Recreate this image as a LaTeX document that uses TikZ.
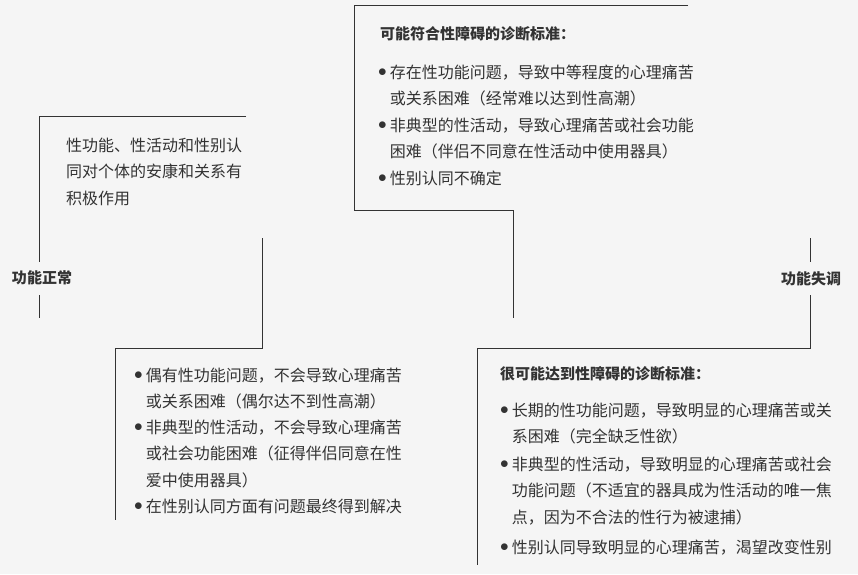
\documentclass[tikz,border=0pt]{standalone}
\usepackage{fontspec}
\setmainfont{Noto Sans CJK SC}
\usepackage{xcolor}
\definecolor{bg}{HTML}{F5F5F5}
\definecolor{ink}{HTML}{333333}
\newcommand{\bitem}[1]{\begin{tabular}[t]{@{}l@{\hspace{3pt}}l@{}}#1\end{tabular}}
\newcommand{\bl}{\raisebox{1.5pt}{$\bullet$}}

\begin{document}
\begin{tikzpicture}[x=1pt,y=-1pt,
	txt/.style={anchor=base west,inner sep=0pt,text=ink,font=\fontsize{16}{26.5}\selectfont},
	ttl/.style={anchor=base west,inner sep=0pt,text=ink,font=\fontsize{15}{20}\selectfont\bfseries},
	lbl/.style={inner sep=0pt,text=ink,font=\fontsize{15}{20}\selectfont\bfseries},
	frame/.style={draw=ink,line width=1pt}]
	\fill[bg] (0,0) rectangle (858,574);
	\useasboundingbox (0,0) rectangle (858,574);

	% labels at the two ends
	\node[lbl] (normal) at (42,278) {功能正常};
	\node[lbl] (dysf)   at (811,279) {功能失调};

	% texts
	\node[txt] (good) at (66,151) {\begin{tabular}[t]{@{}l@{}}性功能、性活动和性别认\\同对个体的安康和关系有\\积极作用\end{tabular}};

	\node[ttl] (maytitle) at (380,39) {可能符合性障碍的诊断标准：};
	\node[txt] (may1) at (378,78) {\bitem{\bl & 存在性功能问题，导致中等程度的心理痛苦\\ & 或关系困难（经常难以达到性高潮）}};
	\node[txt] (may2) at (378,131) {\bitem{\bl & 非典型的性活动，导致心理痛苦或社会功能\\ & 困难（伴侣不同意在性活动中使用器具）}};
	\node[txt] (may3) at (378,184) {\bitem{\bl & 性别认同不确定}};

	\node[txt] (rare1) at (134,381) {\bitem{\bl & 偶有性功能问题，不会导致心理痛苦\\ & 或关系困难（偶尔达不到性高潮）}};
	\node[txt] (rare2) at (134,433) {\bitem{\bl & 非典型的性活动，不会导致心理痛苦\\ & 或社会功能困难（征得伴侣同意在性\\ & 爱中使用器具）}};
	\node[txt] (rare3) at (134,512) {\bitem{\bl & 在性别认同方面有问题最终得到解决}};

	\node[ttl] (liketitle) at (500,379) {很可能达到性障碍的诊断标准：};
	\node[txt] (like1) at (500,416) {\bitem{\bl & 长期的性功能问题，导致明显的心理痛苦或关\\ & 系困难（完全缺乏性欲）}};
	\node[txt] (like2) at (500,470) {\bitem{\bl & 非典型的性活动，导致明显的心理痛苦或社会\\ & 功能问题（不适宜的器具成为性活动的唯一焦\\ & 点，因为不合法的性行为被逮捕）}};
	\node[txt] (like3) at (500,553) {\bitem{\bl & 性别认同导致明显的心理痛苦，渴望改变性别}};

	% frames
	\draw[frame] (246,116) -- (39,116) -- (39,262);
	\draw[frame] (39,295) -- (39,318);
	\draw[frame] (262,238) -- (262,348) -- (115,348) -- (115,520);
	\draw[frame] (688,5) -- (354,5) -- (354,210) -- (513,210) -- (513,318);
	\draw[frame] (810,238) -- (810,262);
	\draw[frame] (810,295) -- (810,348) -- (477,348) -- (477,565);
\end{tikzpicture}
\end{document}
